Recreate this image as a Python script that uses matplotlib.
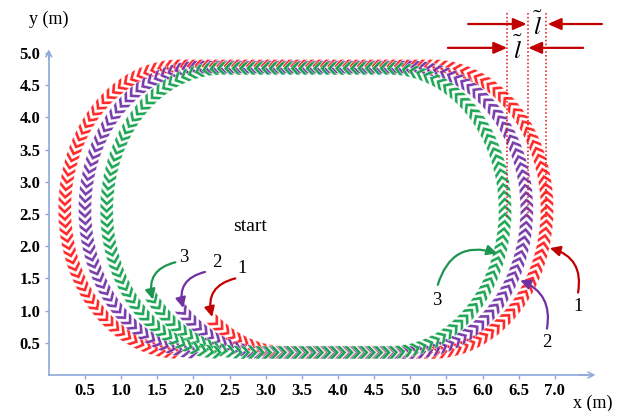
"""Three robot trajectories drawn as chevron trails."""

import matplotlib

matplotlib.use("Agg")

import matplotlib.pyplot as plt
import numpy as np
from matplotlib.collections import PolyCollection

plt.rcParams["font.family"] = ["Liberation Serif", "DejaVu Serif"]
plt.rcParams["mathtext.fontset"] = "stix"

# track order: 1 (red), 2 (purple), 3 (green)
TRACK_LABELS = ["1", "2", "3"]
TRACK_COLORS = ["#FF1F1F", "#7434A8", "#15A24E"]
ARROW_COLORS = ["#C00000", "#7030A0", "#1E9450"]
X_LEFT = [0.22, 0.50, 0.80]
X_RIGHT = [6.89, 6.61, 6.31]
Y_BOTTOM = [0.35, 0.35, 0.35]
Y_TOP = [4.80, 4.78, 4.76]
CORNER_RX = [1.60, 1.60, 1.60]
START_X = [2.30, 1.86, 1.45]
START_Y = [0.82, 0.98, 1.16]

X_TICKS = [0.5, 1.0, 1.5, 2.0, 2.5, 3.0, 3.5, 4.0, 4.5, 5.0, 5.5, 6.0, 6.5, 7.0]
Y_TICKS = [0.5, 1.0, 1.5, 2.0, 2.5, 3.0, 3.5, 4.0, 4.5, 5.0]

# label positions and arrow targets for the start points (left) and the side (right)
LEFT_LABEL_XY = [(2.68, 1.65), (2.33, 1.74), (1.86, 1.83)]
LEFT_TAIL_XY = [(2.58, 1.50), (2.16, 1.60), (1.75, 1.75)]
LEFT_HEAD_XY = [(2.26, 0.90), (1.86, 1.04), (1.44, 1.17)]
RIGHT_LABEL_XY = [(7.32, 1.06), (6.89, 0.50), (5.37, 1.16)]
RIGHT_TAIL_XY = [(7.32, 1.28), (6.89, 0.72), (5.38, 1.40)]
RIGHT_HEAD_XY = [(6.93, 1.97), (6.52, 1.47), (6.20, 1.89)]
RIGHT_RAD = [0.45, 0.40, -0.50]

GAP_LINES_X = [6.34, 6.63, 6.88]
AXIS_COLOR = "#8EA9D8"
MARK_RED = "#C00000"

SPACING_PX = 7.4
CHEVRON = np.array([(4.3, 0), (-1.9, 6.5), (-6.1, 6.5), (0.1, 0), (-6.1, -6.5), (-1.9, -6.5)])


def track_path(xl, xr, yb, yt, rx, sx, sy):
    cl, cr = xl + rx, xr - rx
    cy, ry = (yb + yt) / 2, (yt - yb) / 2
    ts = np.pi - np.arcsin((sy - cy) / ry)
    shift = sx - (cl + rx * np.cos(ts))
    t1 = np.linspace(ts, 1.5 * np.pi, 200)
    t3 = np.linspace(-0.5 * np.pi, 0.5 * np.pi, 400)
    t5 = np.linspace(0.5 * np.pi, 1.5 * np.pi, 400)
    xs = np.concatenate([
        cl + shift + rx * np.cos(t1),
        np.linspace(cl + shift, cr, 200),
        cr + rx * np.cos(t3),
        np.linspace(cr, cl, 300),
        cl + rx * np.cos(t5),
    ])
    ys = np.concatenate([
        cy + ry * np.sin(t1),
        np.full(200, yb),
        cy + ry * np.sin(t3),
        np.full(300, yt),
        cy + ry * np.sin(t5),
    ])
    return xs, ys


def chevrons(xs, ys, kx, ky):
    px, py = xs * kx, ys * ky
    seg = np.hypot(np.diff(px), np.diff(py))
    keep = np.concatenate([[True], seg > 1e-9])
    px, py = px[keep], py[keep]
    s = np.concatenate([[0], np.cumsum(np.hypot(np.diff(px), np.diff(py)))])
    at = np.arange(0, s[-1], SPACING_PX)
    cx, cy = np.interp(at, s, px), np.interp(at, s, py)
    dx = np.interp(at + 0.5, s, px) - np.interp(at - 0.5, s, px)
    dy = np.interp(at + 0.5, s, py) - np.interp(at - 0.5, s, py)
    ang = np.arctan2(dy, dx)
    polys = []
    for x0, y0, a in zip(cx, cy, ang):
        c, sn = np.cos(a), np.sin(a)
        vx = CHEVRON[:, 0] * c - CHEVRON[:, 1] * sn + x0
        vy = CHEVRON[:, 0] * sn + CHEVRON[:, 1] * c + y0
        polys.append(np.column_stack([vx / kx, vy / ky]))
    return polys


fig = plt.figure(figsize=(6.32, 4.11), dpi=100)
ax = fig.add_axes([0, 0, 1, 1])
ax.set_xlim(-0.675, 8.066)
ax.set_ylim(-0.559, 5.823)
ax.patch.set_alpha(0)

kx = ax.transData.transform((1, 0))[0] - ax.transData.transform((0, 0))[0]
ky = ax.transData.transform((0, 1))[1] - ax.transData.transform((0, 0))[1]

for i in range(3):
    xs, ys = track_path(X_LEFT[i], X_RIGHT[i], Y_BOTTOM[i], Y_TOP[i],
                        CORNER_RX[i], START_X[i], START_Y[i])
    coll = PolyCollection(chevrons(xs, ys, kx, ky), facecolor=TRACK_COLORS[i],
                          edgecolor="white", linewidth=0.3, alpha=0.95, zorder=2 + i)
    ax.add_collection(coll)

# axes with arrow heads
for side in ["top", "right"]:
    ax.spines[side].set_visible(False)
for side in ["bottom", "left"]:
    ax.spines[side].set_position(("data", 0))
    ax.spines[side].set_color(AXIS_COLOR)
    ax.spines[side].set_linewidth(1.2)
ax.spines["bottom"].set_bounds(0, 7.45)
ax.spines["left"].set_bounds(0, 4.95)
ax.annotate("", xy=(7.6, 0), xytext=(7.3, 0),
            arrowprops=dict(arrowstyle="->", color=AXIS_COLOR, lw=1.2))
ax.annotate("", xy=(0, 5.1), xytext=(0, 4.85),
            arrowprops=dict(arrowstyle="->", color=AXIS_COLOR, lw=1.2))
ax.set_xticks(X_TICKS)
ax.set_xticklabels([f"{v:.1f}" for v in X_TICKS])
ax.set_yticks(Y_TICKS)
ax.set_yticklabels([f"{v:.1f}" for v in Y_TICKS])
ax.tick_params(direction="out", length=3, width=1, color=AXIS_COLOR,
               labelsize=12, pad=3)
for lab in ax.get_xticklabels() + ax.get_yticklabels():
    lab.set_fontweight("bold")
ax.text(7.53, -0.44, "x (m)", fontsize=13, ha="center", va="center")
ax.text(0.0, 5.52, "y (m)", fontsize=13, ha="center", va="center")

ax.text(2.78, 2.30, "start", fontsize=14, ha="center", va="center")

for i in range(3):
    ax.text(*LEFT_LABEL_XY[i], TRACK_LABELS[i], fontsize=13.5, ha="center", va="center")
    ax.annotate("", xy=LEFT_HEAD_XY[i], xytext=LEFT_TAIL_XY[i],
                arrowprops=dict(arrowstyle="-|>,head_length=0.6,head_width=0.3",
                                color=ARROW_COLORS[i], lw=1.6,
                                connectionstyle="arc3,rad=0.5",
                                shrinkA=0, shrinkB=0), zorder=6)
    ax.text(*RIGHT_LABEL_XY[i], TRACK_LABELS[i], fontsize=13.5, ha="center", va="center")
    ax.annotate("", xy=RIGHT_HEAD_XY[i], xytext=RIGHT_TAIL_XY[i],
                arrowprops=dict(arrowstyle="-|>,head_length=0.6,head_width=0.3",
                                color=ARROW_COLORS[i], lw=1.6,
                                connectionstyle=f"arc3,rad={RIGHT_RAD[i]}",
                                shrinkA=0, shrinkB=0), zorder=6)

# gap markers between the right-hand sides
for gx in GAP_LINES_X:
    ax.plot([gx, gx], [2.45, 5.62], color="#E01010", lw=1.1, ls=(0, (1, 1.5)), zorder=6)

arrow_kw = dict(arrowstyle="-|>,head_length=0.8,head_width=0.35", color=MARK_RED,
                lw=1.6, shrinkA=0, shrinkB=0)
ax.annotate("", xy=(6.61, 5.45), xytext=(5.80, 5.45), arrowprops=arrow_kw)
ax.annotate("", xy=(6.90, 5.45), xytext=(7.65, 5.45), arrowprops=arrow_kw)
ax.annotate("", xy=(6.34, 5.08), xytext=(5.52, 5.08), arrowprops=arrow_kw)
ax.annotate("", xy=(6.63, 5.08), xytext=(7.39, 5.08), arrowprops=arrow_kw)
ax.text(6.77, 5.42, r"$\tilde{l}$", fontsize=18, ha="center", va="center")
ax.text(6.49, 5.05, r"$\tilde{l}$", fontsize=18, ha="center", va="center")

fig.savefig("out.png", dpi=100)
